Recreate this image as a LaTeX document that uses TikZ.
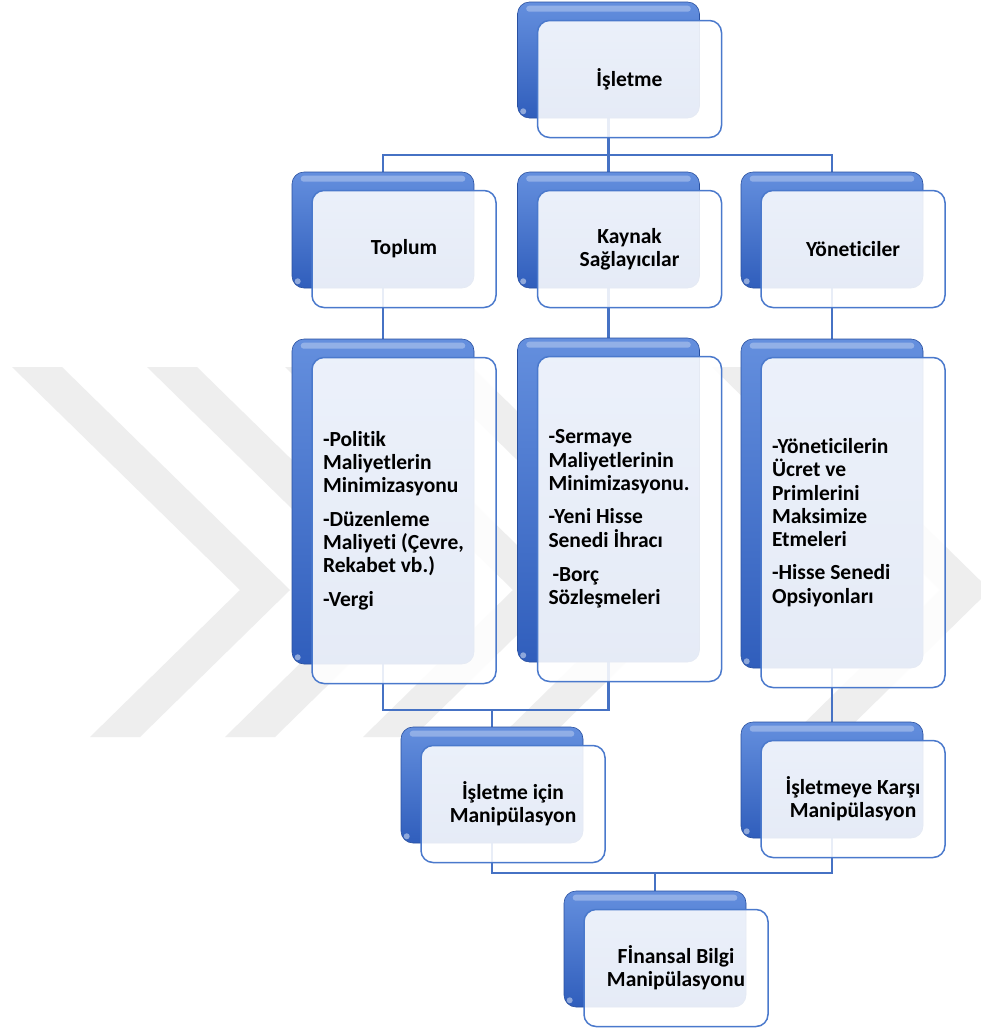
\documentclass[tikz,border=0pt]{standalone}
\usepackage{fontspec}
\setmainfont{Carlito}[Ligatures={NoCommon}]
\usetikzlibrary{backgrounds}
\definecolor{wm}{RGB}{238,238,238}
\definecolor{linec}{RGB}{70,114,196}
\definecolor{btop}{RGB}{100,143,222}
\definecolor{bbot}{RGB}{48,94,188}
\definecolor{fedge}{RGB}{74,121,204}
\tikzset{
 backbox/.style={rectangle, rounded corners=12pt, minimum width=182pt, inner sep=0pt,
   top color=btop, bottom color=bbot, draw=bbot!85!black, line width=0.6pt},
 frontbox/.style={rectangle, rounded corners=12pt, minimum width=184pt, inner xsep=11pt, inner ysep=0pt,
   fill=white, fill opacity=0.88, text opacity=1, draw=fedge, line width=1.5pt,
   font=\fontsize{21.5}{23.3}\selectfont\bfseries},
 ctext/.style={align=center},
 ltext/.style={text width=162pt, align=flush left},
 conn/.style={draw=linec, line width=2.2pt},
 wmark/.style={fill=wm},
 shine/.style={white, opacity=0.3, rounded corners=3pt},
 spot/.style={white, opacity=0.45},
}
\newcommand\pairbox[6]{%
  \node[backbox, minimum height=#4pt] (b#1) at (#2,#3) {};
  \fill[shine] ([xshift=9pt,yshift=-4pt]b#1.north west) rectangle ([xshift=-9pt,yshift=-10pt]b#1.north east);
  \fill[spot] ([xshift=6pt,yshift=7pt]b#1.south west) circle (3pt);
  \node[frontbox, minimum height=#4pt+1pt, #5] (#1) at ({#2+21},{#3+19}) {#6};
}
\begin{document}
\begin{tikzpicture}[x=1pt,y=-1pt]
\useasboundingbox (0,0) rectangle (981,1029);

\pairbox{Top}{608.5}{60}{116}{ctext}{İşletme}
\pairbox{Topl}{383}{230}{116}{ctext}{Toplum}
\pairbox{Kay}{608.5}{230}{116}{ctext}{Kaynak\\Sağlayıcılar}
\pairbox{Yon}{832}{230}{116}{ctext}{Yöneticiler}
\pairbox{Pol}{383}{501.5}{325}{ltext}{-Politik\\Maliyetlerin\\Minimizasyonu\\[10pt]-Düzenleme\\Maliyeti (Çevre,\\Rekabet vb.)\\[10pt]-Vergi}
\pairbox{Ser}{608.5}{500}{324}{ltext}{-Sermaye\\Maliyetlerinin\\Minimizasyonu.\\[10pt]-Yeni Hisse\\Senedi İhracı\\[11pt]\hspace*{4pt}-Borç\\Sözleşmeleri}
\pairbox{Ym}{832}{503.5}{329}{ltext}{-Yöneticilerin\\Ücret ve\\Primlerini\\Maksimize\\Etmeleri\\[10pt]-Hisse Senedi\\Opsiyonları}
\pairbox{Iic}{492}{785}{116}{ctext}{İşletme için\\Manipülasyon}
\pairbox{Ikm}{832}{780}{116}{ctext}{İşletmeye Karşı\\Manipülasyon}
\pairbox{Fin}{655}{949}{116}{ctext}{Fİnansal Bilgi\\Manipülasyonu}

\begin{scope}[on background layer]
  \fill[white] (0,0) rectangle (981,1029);
  \begin{scope}
    \clip (0,0) rectangle (981,1029);
    \foreach \d in {0,135,273,410,700}
      \fill[wmark] ({12+\d},367) -- ({62+\d},367) -- ({290+\d},590) -- ({140+\d},737) -- ({90+\d},737) -- ({240+\d},590) -- cycle;
  \end{scope}
  \coordinate (j1) at (608.5,155);
  \coordinate (j2) at (492,710);
  \coordinate (j3) at (655,873);
  \draw[conn] (bTop.south) -- (j1);
  \draw[conn] (bTopl.north) |- (j1) -| (bYon.north);
  \draw[conn] (j1) -- (bKay.north);
  \draw[conn] (bTopl.south) -- (bPol.north);
  \draw[conn] (bKay.south) -- (bSer.north);
  \draw[conn] (bYon.south) -- (bYm.north);
  \draw[conn] (bPol.south) |- (j2) -| (bSer.south);
  \draw[conn] (j2) -- (bIic.north);
  \draw[conn] (bYm.south) -- (bIkm.north);
  \draw[conn] (bIic.south) |- (j3) -| (bIkm.south);
  \draw[conn] (j3) -- (bFin.north);
\end{scope}
\end{tikzpicture}
\end{document}
